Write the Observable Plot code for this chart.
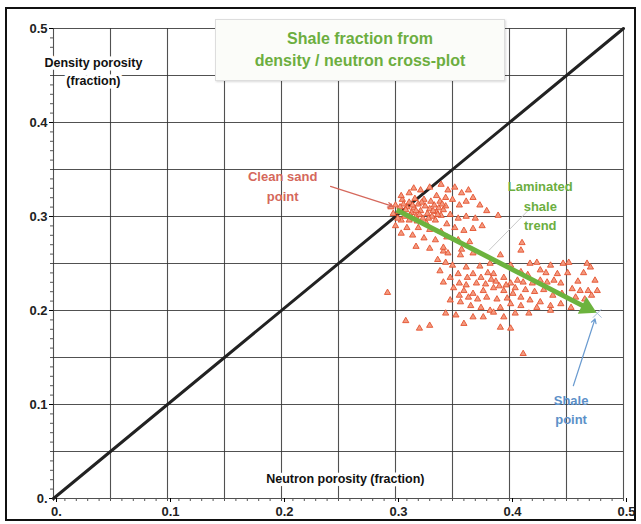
<!DOCTYPE html>
<html>
<head>
<meta charset="utf-8">
<script src="https://cdn.jsdelivr.net/npm/d3@7"></script>
<script src="https://cdn.jsdelivr.net/npm/@observablehq/plot@0.6"></script>
<style>
  html, body { margin: 0; padding: 0; background: #fff; }
  #wrap { position: relative; width: 641px; height: 524px; overflow: hidden; }
  #frame { position: absolute; left: 5px; top: 7px; width: 627px; height: 510px; border: 2.5px solid #111; pointer-events: none; }
  #title { position: absolute; left: 215px; top: 19px; width: 290px; height: 62px; background: #fbfcf9;
    border: 1px solid #ddd; box-shadow: 1px 1px 2px rgba(0,0,0,0.15);
    font-family: "Liberation Sans", Arial, sans-serif; font-weight: bold; font-size: 16px; color: #6cae3f;
    text-align: center; line-height: 22px; padding-top: 8px; box-sizing: border-box; }
  svg { position: absolute; left: 0; top: 0; }
</style>
</head>
<body>
<div id="wrap">
  <div id="chart"></div>
  <div id="title">Shale fraction from<br>density / neutron cross-plot</div>
  <div id="frame"></div>
</div>
<script>
// ---- data ----
const xTicks = [0, 0.1, 0.2, 0.3, 0.4, 0.5];
const yTicks = [0, 0.1, 0.2, 0.3, 0.4, 0.5];
const gridValues = [0, 0.05, 0.1, 0.15, 0.2, 0.25, 0.3, 0.35, 0.4, 0.45, 0.5];
const minorTicks = d3.range(0, 51).map(i => i / 100);
const tickLabels = ["0.", "0.1", "0.2", "0.3", "0.4", "0.5"];

// neutron porosity, density porosity
const upperCluster = [
  [0.300,0.312],[0.303,0.305],[0.306,0.318],[0.308,0.300],[0.310,0.310],[0.312,0.315],[0.314,0.304],[0.316,0.309],
  [0.318,0.300],[0.320,0.313],[0.322,0.306],[0.324,0.298],[0.326,0.311],[0.328,0.303],[0.330,0.308],[0.332,0.300],
  [0.334,0.312],[0.336,0.305],[0.338,0.309],[0.340,0.301],[0.342,0.307],[0.319,0.295],[0.312,0.296],[0.305,0.296],
  [0.327,0.293],[0.335,0.296],[0.344,0.311],[0.298,0.303],[0.296,0.310],[0.302,0.298],[0.317,0.319],[0.325,0.318],
  [0.331,0.316],[0.339,0.316],[0.309,0.307],[0.315,0.312],[0.321,0.302],[0.329,0.298],[0.337,0.302],[0.323,0.315],
  [0.307,0.313],[0.313,0.301],[0.333,0.306],[0.341,0.313],[0.318,0.306],[0.304,0.310],
  [0.322,0.328],[0.330,0.331],[0.340,0.334],[0.346,0.328],[0.352,0.331],[0.358,0.325],[0.364,0.328],[0.312,0.325],
  [0.305,0.322],[0.350,0.318],[0.356,0.312],[0.362,0.316],[0.368,0.320],[0.374,0.312],[0.380,0.306],[0.348,0.302],
  [0.355,0.298],[0.362,0.300],[0.370,0.298],[0.345,0.292],[0.352,0.288],[0.360,0.285],[0.368,0.287],[0.376,0.290],
  [0.340,0.284],[0.330,0.286],[0.320,0.288],[0.310,0.288],[0.300,0.290],[0.305,0.282],[0.315,0.280],[0.325,0.277],
  [0.335,0.275],[0.345,0.278],[0.355,0.275],[0.365,0.273],[0.318,0.268],[0.330,0.266],[0.342,0.263],[0.358,0.265],
  [0.390,0.301],[0.411,0.272],[0.410,0.264],[0.336,0.322],[0.344,0.320],[0.316,0.330]
];
const lowerCluster = [
  [0.342,0.267],[0.346,0.261],[0.344,0.251],[0.357,0.259],[0.368,0.261],[0.383,0.250],[0.392,0.259],[0.401,0.248],
  [0.410,0.241],[0.418,0.250],[0.424,0.251],[0.427,0.243],[0.436,0.248],[0.442,0.239],[0.447,0.250],[0.452,0.251],
  [0.451,0.240],[0.468,0.250],[0.471,0.246],[0.475,0.232],[0.477,0.221],[0.469,0.221],[0.462,0.221],[0.455,0.223],
  [0.445,0.229],[0.439,0.232],[0.433,0.230],[0.427,0.232],[0.420,0.229],[0.412,0.230],[0.407,0.232],[0.401,0.229],
  [0.395,0.235],[0.386,0.239],[0.381,0.240],[0.375,0.235],[0.368,0.239],[0.363,0.235],[0.355,0.239],[0.348,0.235],
  [0.342,0.230],[0.351,0.224],[0.360,0.221],[0.368,0.218],[0.377,0.221],[0.386,0.224],[0.395,0.221],[0.403,0.218],
  [0.410,0.214],[0.418,0.211],[0.427,0.209],[0.436,0.205],[0.445,0.207],[0.454,0.203],[0.424,0.203],[0.436,0.200],
  [0.410,0.205],[0.401,0.207],[0.392,0.203],[0.383,0.200],[0.375,0.203],[0.366,0.205],[0.357,0.209],[0.348,0.211],
  [0.344,0.197],[0.353,0.195],[0.368,0.193],[0.377,0.193],[0.386,0.198],[0.395,0.193],[0.405,0.197],[0.417,0.197],
  [0.392,0.182],[0.401,0.181],[0.360,0.186],[0.412,0.154],
  [0.356,0.229],[0.362,0.227],[0.371,0.229],[0.379,0.228],[0.388,0.231],[0.397,0.227],[0.372,0.212],[0.380,0.214],
  [0.389,0.212],[0.398,0.213],[0.364,0.214],[0.356,0.216],[0.384,0.233],[0.391,0.226],[0.405,0.224],[0.414,0.222],
  [0.422,0.220],[0.430,0.222],[0.438,0.216],[0.446,0.218],[0.458,0.214],[0.466,0.212],[0.472,0.216],[0.460,0.231],
  [0.465,0.240],[0.432,0.240],[0.416,0.238],[0.374,0.247],[0.362,0.246],[0.350,0.248],[0.339,0.242],[0.337,0.254],
  [0.293,0.219],[0.309,0.189],[0.321,0.181],[0.330,0.184]
];
const points = upperCluster.concat(lowerCluster);

const cleanSand = [0.301, 0.307];
const shalePoint = [0.477, 0.197];
const trendEnd = [0.474, 0.199];
const labels = [
  {x: 0.201, y: 0.334, text: "Clean sand\npoint", color: "#d5685c"},
  {x: 0.427, y: 0.313, text: "Laminated\nshale\ntrend", color: "#6cae3f"},
  {x: 0.454, y: 0.096, text: "Shale\npoint", color: "#5c90c8"}
];
const axisTitles = [
  {x: 0.035, y: 0.456, text: "Density porosity\n(fraction)"},
  {x: 0.256, y: 0.023, text: "Neutron porosity (fraction)"}
];
const pointerArrows = [
  {x1: 0.243, y1: 0.332, x2: 0.297, y2: 0.311, color: "#d5685c"},
  {x1: 0.456, y1: 0.120, x2: 0.475, y2: 0.191, color: "#6a9bd0"}
];
const faintLine = [{x1: 0.382, y1: 0.264, x2: 0.416, y2: 0.306}];

const fmt = d => tickLabels[xTicks.indexOf(Math.round(d * 10) / 10)];

// trend arrow: shaft plus a filled triangular head, oriented along the trend in screen space
const W = 641, H = 524, mL = 53, mR = 18, mT = 28, mB = 26;
const kx = (W - mL - mR) / 0.5, ky = (H - mT - mB) / 0.5;
const ddx = trendEnd[0] - cleanSand[0], ddy = trendEnd[1] - cleanSand[1];
const headAngle = Math.atan2(ddx * kx, ddy * ky) * 180 / Math.PI;
const headT = 0.955;
const shaftEnd = [cleanSand[0] + ddx * headT, cleanSand[1] + ddy * headT];
const headPos = [cleanSand[0] + ddx * 0.965, cleanSand[1] + ddy * 0.965];

const chart = Plot.plot({
  width: W,
  height: H,
  marginLeft: mL,
  marginRight: mR,
  marginTop: mT,
  marginBottom: mB,
  x: {domain: [0, 0.5]},
  y: {domain: [0, 0.5]},
  style: {fontFamily: "'Liberation Sans', Arial, sans-serif", background: "transparent"},
  marks: [
    Plot.ruleX(gridValues, {stroke: "#333", strokeWidth: 1.1, strokeOpacity: 0.85}),
    Plot.ruleY(gridValues, {stroke: "#333", strokeWidth: 1.1, strokeOpacity: 0.85}),
    Plot.axisX(minorTicks, {tickSize: 3, tickFormat: () => "", label: null, stroke: "#555"}),
    Plot.axisY(minorTicks, {tickSize: 3, tickFormat: () => "", label: null, stroke: "#555"}),
    Plot.axisX(xTicks, {tickSize: 4, tickPadding: 4, tickFormat: fmt, label: null, fontSize: 13, fontWeight: "bold", fill: "#222", dx: 3}),
    Plot.axisY(yTicks, {tickSize: 4, tickPadding: 2, tickFormat: fmt, label: null, fontSize: 13, fontWeight: "bold", fill: "#222"}),
    Plot.text(axisTitles, {x: "x", y: "y", text: "text", fontSize: 12.5, fontWeight: "bold", fill: "#111",
      stroke: "white", strokeWidth: 7, lineHeight: 1.45}),
    Plot.line([[0, 0], [0.5, 0.5]], {x: d => d[0], y: d => d[1], stroke: "#222", strokeWidth: 3}),
    Plot.link(faintLine, {x1: "x1", y1: "y1", x2: "x2", y2: "y2", stroke: "#c8c8c8", strokeWidth: 1}),
    Plot.dot(points, {x: d => d[0], y: d => d[1], symbol: "triangle", r: 2.3, stroke: "#e4522f", fill: "#f39a80", strokeWidth: 0.9}),
    Plot.dot([shalePoint], {x: d => d[0], y: d => d[1], symbol: "times", r: 4, stroke: "#a8c0dc", strokeWidth: 1}),
    Plot.link([{a: cleanSand, b: shaftEnd}], {x1: d => d.a[0], y1: d => d.a[1], x2: d => d.b[0], y2: d => d.b[1],
      stroke: "#6cb33e", strokeWidth: 5}),
    Plot.dot([headPos], {x: d => d[0], y: d => d[1], symbol: "triangle", r: 7, rotate: headAngle, fill: "#6cb33e", stroke: "none"}),
    Plot.arrow(pointerArrows, {x1: "x1", y1: "y1", x2: "x2", y2: "y2", stroke: "color", strokeWidth: 1.2, headLength: 6}),
    Plot.text(labels, {x: "x", y: "y", text: "text", fill: "color", fontSize: 13, fontWeight: "bold", lineHeight: 1.5})
  ]
});
document.getElementById("chart").appendChild(chart);
</script>
</body>
</html>
